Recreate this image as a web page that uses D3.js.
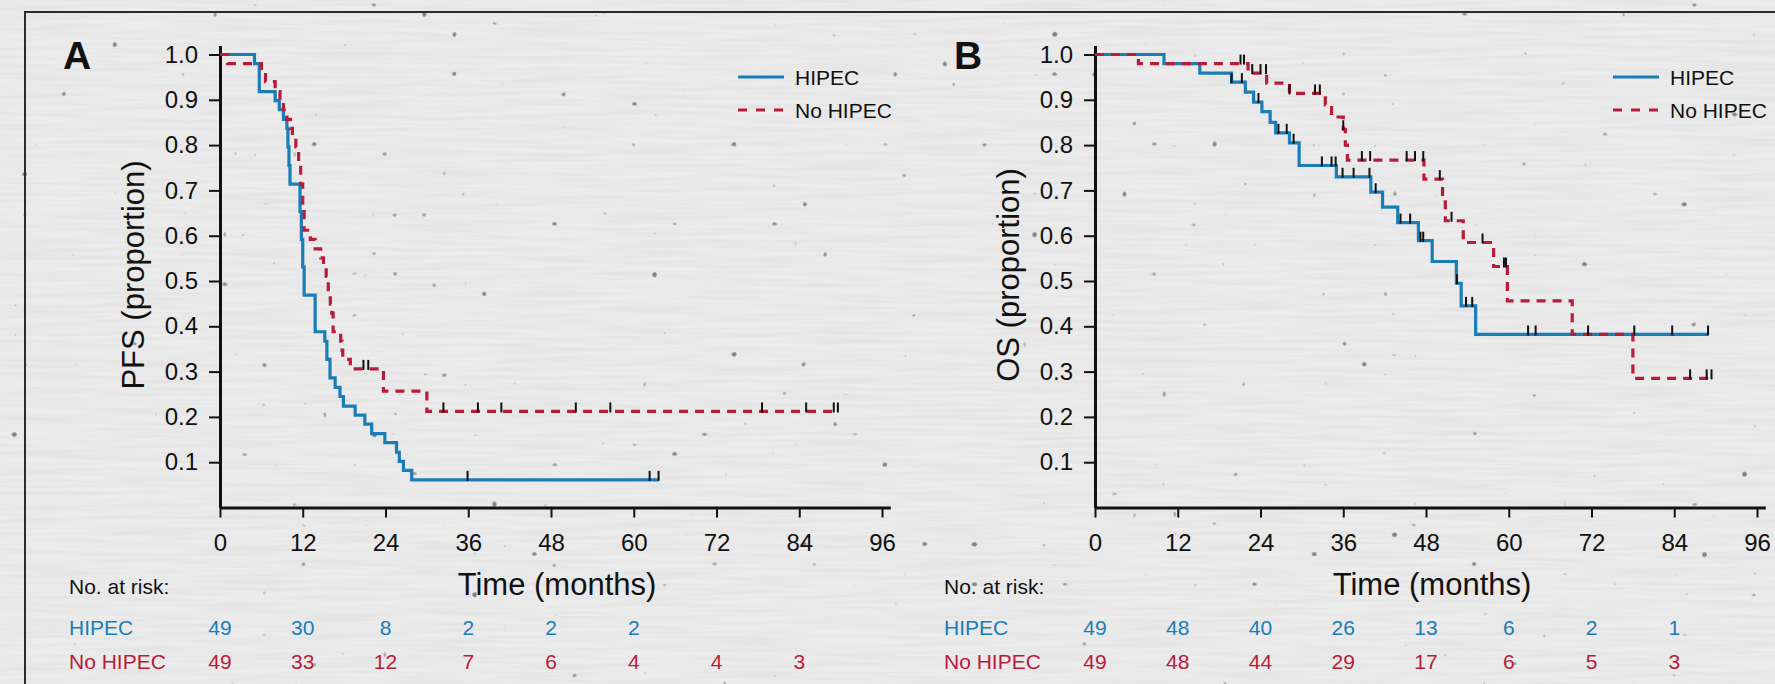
<!DOCTYPE html>
<html>
<head>
<meta charset="utf-8">
<script src="https://cdn.jsdelivr.net/npm/d3@7"></script>
<style>
  html, body { margin: 0; padding: 0; background: #ebebeb; }
  svg { display: block; }
  text { font-family: "Liberation Sans", Arial, sans-serif; fill: #111; }
</style>
</head>
<body>
<div id="chart"></div>
<script>
// Chart values

var months = [0, 12, 24, 36, 48, 60, 72, 84, 96];
var yTicks = [0.1, 0.2, 0.3, 0.4, 0.5, 0.6, 0.7, 0.8, 0.9, 1.0];
var groups = ["HIPEC", "No HIPEC"];

// PFS, HIPEC: [month, proportion] at each step
var pfsHipec = [[0, 1], [5.0, 0.98], [5.7, 0.918], [8.0, 0.898], [8.6, 0.878], [9.2, 0.857],
  [9.7, 0.837], [9.85, 0.796], [10.0, 0.755], [10.15, 0.714], [11.6, 0.653], [11.8, 0.592],
  [12.0, 0.531], [12.2, 0.469], [13.8, 0.388], [15.2, 0.367], [15.5, 0.327], [15.95, 0.286],
  [16.7, 0.265], [17.4, 0.245], [17.9, 0.224], [19.6, 0.204], [21.0, 0.184], [22.0, 0.163],
  [23.9, 0.143], [25.6, 0.122], [26.0, 0.102], [26.6, 0.082], [27.8, 0.061]];
var pfsHipecEnd = 63.6;
var pfsHipecCensor = [35.9, 62.3, 63.6];

// PFS, No HIPEC
var pfsNoHipec = [[0, 1], [1.1, 0.98], [6.0, 0.96], [6.6, 0.94], [8.0, 0.918], [8.7, 0.898],
  [9.2, 0.878], [9.7, 0.857], [10.2, 0.837], [10.5, 0.816], [11.0, 0.796], [11.4, 0.755],
  [11.7, 0.714], [12.0, 0.653], [12.2, 0.612], [13.1, 0.592], [13.8, 0.571], [14.6, 0.551],
  [15.0, 0.531], [15.4, 0.51], [15.7, 0.469], [16.0, 0.449], [16.2, 0.429], [16.4, 0.388],
  [17.5, 0.367], [17.7, 0.347], [17.8, 0.327], [18.9, 0.306], [23.7, 0.257], [30.0, 0.212]];
var pfsNoHipecEnd = 89.6;
var pfsNoHipecCensor = [20.8, 21.5, 32.4, 37.4, 40.8, 51.6, 56.6, 78.6, 85.0, 89.0, 89.6];

// OS, HIPEC
var osHipec = [[0, 1], [10.0, 0.98], [15.2, 0.959], [19.8, 0.939], [21.8, 0.917], [23.0, 0.895],
  [24.2, 0.874], [25.4, 0.85], [26.2, 0.827], [28.2, 0.805], [29.6, 0.755], [35.0, 0.73],
  [40.0, 0.696], [41.7, 0.663], [43.9, 0.629], [46.9, 0.589], [48.9, 0.543], [52.4, 0.495],
  [53.1, 0.445], [55.2, 0.382]];
var osHipecEnd = 88.9;
var osHipecCensor = [19.8, 21.3, 23.7, 26.6, 27.8, 28.8, 32.9, 34.3, 34.9, 35.9, 37.5, 39.8,
  40.7, 44.3, 45.7, 47.2, 47.6, 52.5, 53.8, 54.7, 62.8, 63.9, 71.5, 78.2, 83.7, 88.9];

// OS, No HIPEC
var osNoHipec = [[0, 1], [6.3, 0.98], [22.2, 0.959], [24.9, 0.937], [28.2, 0.914], [33.4, 0.889],
  [34.3, 0.862], [36.0, 0.835], [36.3, 0.80], [36.6, 0.767], [47.7, 0.725], [50.4, 0.68],
  [50.8, 0.633], [53.4, 0.585], [57.8, 0.532], [59.8, 0.456], [69.2, 0.382], [78.0, 0.285]];
var osNoHipecEnd = 89.4;
var osNoHipecCensor = [21.1, 21.6, 22.8, 24.0, 24.8, 28.2, 31.9, 32.6, 36.0, 38.7, 39.9,
  45.2, 46.4, 47.6, 50.0, 51.7, 56.2, 59.3, 59.6, 86.3, 88.7, 89.4];

// Numbers at risk at each 12-month tick
var pfsRiskHipec = [49, 30, 8, 2, 2, 2];
var pfsRiskNoHipec = [49, 33, 12, 7, 6, 4, 4, 3];
var osRiskHipec = [49, 48, 40, 26, 13, 6, 2, 1];
var osRiskNoHipec = [49, 48, 44, 29, 17, 6, 5, 3];

// Page setup
var svgWidth = 1775;
var svgHeight = 684;
var blue = "#1a7db6";
var red = "#b71c3a";

var svg = d3.select("#chart")
  .append("svg")
  .attr("width", svgWidth)
  .attr("height", svgHeight);

// paper-like background
var defs = svg.append("defs");
var paper = defs.append("filter").attr("id", "paper")
  .attr("x", 0).attr("y", 0).attr("width", "100%").attr("height", "100%");
paper.append("feTurbulence")
  .attr("type", "fractalNoise")
  .attr("baseFrequency", "0.01 0.25")
  .attr("numOctaves", 3)
  .attr("seed", 7);
paper.append("feColorMatrix")
  .attr("type", "matrix")
  .attr("values", "0 0 0 0 0.45  0 0 0 0 0.45  0 0 0 0 0.45  0.7 0 0 0 -0.25");

var specks = defs.append("filter").attr("id", "specks")
  .attr("x", 0).attr("y", 0).attr("width", "100%").attr("height", "100%");
specks.append("feTurbulence")
  .attr("type", "fractalNoise")
  .attr("baseFrequency", 0.1)
  .attr("numOctaves", 1)
  .attr("seed", 11);
specks.append("feColorMatrix")
  .attr("type", "matrix")
  .attr("values", "0 0 0 0 0.12  0 0 0 0 0.12  0 0 0 0 0.12  16 0 0 0 -12.2");

svg.append("rect")
  .attr("width", svgWidth).attr("height", svgHeight)
  .attr("fill", "#ebebeb");
svg.append("rect")
  .attr("width", svgWidth).attr("height", svgHeight)
  .attr("filter", "url(#paper)")
  .attr("opacity", 0.4);
svg.append("rect")
  .attr("width", svgWidth).attr("height", svgHeight)
  .attr("filter", "url(#specks)")
  .attr("opacity", 0.75);

// frame
svg.append("path")
  .attr("d", "M25,684V12H1775")
  .attr("fill", "none")
  .attr("stroke", "#2a2a2a")
  .attr("stroke-width", 2);

// Survival value at time t
function survAt(series, t) {
  var s = series[0][1];
  series.forEach(function(d) {
    if (d[0] <= t) s = d[1];
  });
  return s;
}

function drawPanel(opts) {
  var g = svg.append("g");

  var x = d3.scaleLinear().domain([0, 97.2]).range([opts.left, opts.left + 97.2 * 6.896]);
  var y = d3.scaleLinear().domain([0, 1.02]).range([507.5, 507.5 - 1.02 * 453]);

  // axes
  var xAxis = g.append("g")
    .attr("transform", "translate(0,507.5)")
    .call(d3.axisBottom(x).tickValues(months).tickSizeInner(10).tickSizeOuter(0).tickPadding(16));
  var yAxis = g.append("g")
    .attr("transform", `translate(${opts.left},0)`)
    .call(d3.axisLeft(y).tickValues(yTicks).tickFormat(d3.format(".1f"))
      .tickSizeInner(11).tickSizeOuter(0).tickPadding(11));

  [xAxis, yAxis].forEach(function(ax) {
    ax.select(".domain").attr("stroke", "#111").attr("stroke-width", 3);
    ax.selectAll(".tick line").attr("stroke", "#111").attr("stroke-width", 2);
    ax.selectAll(".tick text")
      .attr("font-size", 24)
      .attr("font-family", "'Liberation Sans', Arial, sans-serif")
      .attr("fill", "#111");
  });

  // curves
  var line = d3.line()
    .x(function(d) { return x(d[0]); })
    .y(function(d) { return y(d[1]); })
    .curve(d3.curveStepAfter);

  opts.curves.forEach(function(c) {
    var pts = c.data.concat([[c.end, c.data[c.data.length - 1][1]]]);
    g.append("path")
      .datum(pts)
      .attr("d", line)
      .attr("fill", "none")
      .attr("stroke", c.color)
      .attr("stroke-width", 3.2)
      .attr("stroke-dasharray", c.dash ? "9,7" : null);
  });

  // censor marks
  opts.curves.forEach(function(c) {
    g.selectAll(null)
      .data(c.censor)
      .enter()
      .append("line")
      .attr("x1", function(d) { return x(d); })
      .attr("x2", function(d) { return x(d); })
      .attr("y1", function(d) { return y(survAt(c.data, d)) - 9; })
      .attr("y2", function(d) { return y(survAt(c.data, d)) + 1; })
      .attr("stroke", "#111")
      .attr("stroke-width", 2);
  });

  // panel letter
  g.append("text")
    .attr("x", opts.letterX)
    .attr("y", 55)
    .attr("dy", "0.36em")
    .attr("font-size", 39)
    .attr("font-weight", "bold")
    .text(opts.letter);

  // axis titles
  g.append("text")
    .attr("x", (x(0) + x(96)) / 2 + 6)
    .attr("y", 584)
    .attr("dy", "0.36em")
    .attr("text-anchor", "middle")
    .attr("font-size", 31)
    .text("Time (months)");

  g.append("text")
    .attr("transform", `translate(${opts.yTitleX},275) rotate(-90)`)
    .attr("dy", "0.36em")
    .attr("text-anchor", "middle")
    .attr("font-size", 31)
    .text(opts.yTitle);

  // legend
  var legend = g.append("g")
    .attr("transform", `translate(${x(96) - 144},0)`);
  opts.curves.forEach(function(c, i) {
    var ly = 77 + i * 33;
    legend.append("line")
      .attr("x1", 0).attr("x2", 46)
      .attr("y1", ly).attr("y2", ly)
      .attr("stroke", c.color)
      .attr("stroke-width", 3.2)
      .attr("stroke-dasharray", c.dash ? "9,9" : null);
    legend.append("text")
      .attr("x", 57)
      .attr("y", ly)
      .attr("dy", "0.36em")
      .attr("font-size", 21)
      .text(groups[i]);
  });

  // numbers at risk
  g.append("text")
    .attr("x", opts.riskX)
    .attr("y", 586)
    .attr("dy", "0.36em")
    .attr("font-size", 21)
    .text("No. at risk:");

  opts.curves.forEach(function(c, i) {
    var ry = 627 + i * 34;
    g.append("text")
      .attr("x", opts.riskX)
      .attr("y", ry)
      .attr("dy", "0.36em")
      .attr("font-size", 21)
      .style("fill", c.color)
      .text(groups[i]);
    g.selectAll(null)
      .data(c.risk)
      .enter()
      .append("text")
      .attr("x", function(d, j) { return x(months[j]); })
      .attr("y", ry)
      .attr("dy", "0.36em")
      .attr("text-anchor", "middle")
      .attr("font-size", 21)
      .style("fill", c.color)
      .text(function(d) { return d; });
  });
}

drawPanel({
  left: 220,
  letter: "A",
  letterX: 63,
  yTitle: "PFS (proportion)",
  yTitleX: 133,
  riskX: 69,
  curves: [
    { data: pfsHipec, end: pfsHipecEnd, censor: pfsHipecCensor, risk: pfsRiskHipec, color: blue, dash: false },
    { data: pfsNoHipec, end: pfsNoHipecEnd, censor: pfsNoHipecCensor, risk: pfsRiskNoHipec, color: red, dash: true }
  ]
});

drawPanel({
  left: 1095,
  letter: "B",
  letterX: 954,
  yTitle: "OS (proportion)",
  yTitleX: 1008,
  riskX: 944,
  curves: [
    { data: osHipec, end: osHipecEnd, censor: osHipecCensor, risk: osRiskHipec, color: blue, dash: false },
    { data: osNoHipec, end: osNoHipecEnd, censor: osNoHipecCensor, risk: osRiskNoHipec, color: red, dash: true }
  ]
});
</script>
</body>
</html>
